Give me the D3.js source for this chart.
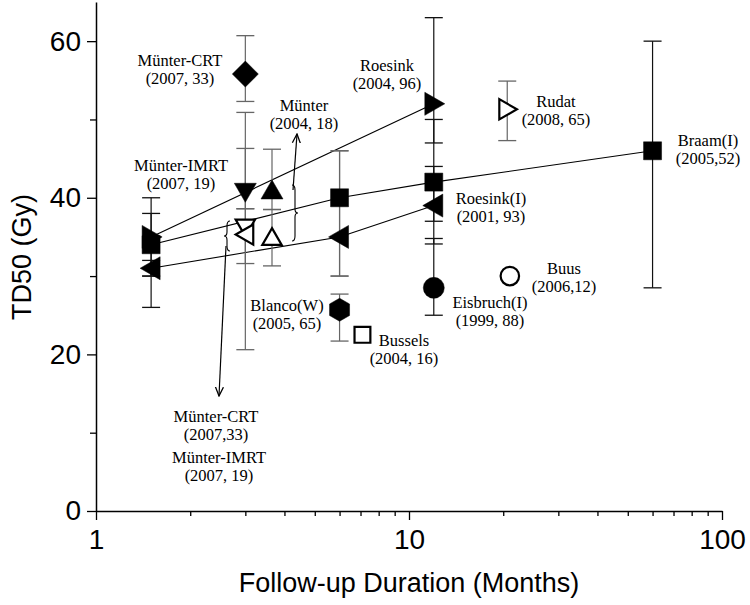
<!DOCTYPE html>
<html><head><meta charset="utf-8">
<script src="https://cdn.jsdelivr.net/npm/d3@7/dist/d3.min.js"></script>
<style>
body{margin:0;background:#fff;}
svg{display:block;}
</style></head>
<body>
<svg id="chart" width="750" height="605"></svg>
<script>
// ---------- data ----------
const months   = [1.5, 1.5, 1.5, 3, 3, 3, 3, 3.65, 3.65, 6, 6, 6, 7.1, 12, 12, 12, 12, 20.6, 21, 60];
const td50     = [35, 34, 31, 55.8, 40.7, 36.2, 35.3, 41, 35, 40, 35, 25.7, 22.5, 52, 42, 39, 28.5, 51.3, 30, 46];
const errLow   = [30, 26, 30, 52.3, 38.6, 31.6, 20.6, 38.5, 31.3, 30, 30, 21.7, null, 47, 37, 34.1, 25, 47.3, null, 28.5];
const errHigh  = [40, 38, 32, 60.7, 46.3, 50.9, 38.6, 46.2, 38.5, 46, 46, 27.7, null, 63, 50, 44, 34.8, 54.9, null, 60];
const shapes   = ["triR","square","triL","diamond","triD","triD","triL","triU","triU","square","triL","hexagon","square","triR","square","triL","circle","triR","circle","square"];
const filled   = [true,true,true,true,true,false,false,true,false,true,true,true,false,true,true,true,true,false,false,true];
const barTone  = ["k","k","k","g","g","g","g","g","g","g","g","g","k","k","k","k","k","g","k","k"];

// connecting trend lines (indices into the arrays above)
const trendLines = [[0, 13], [1, 9, 14, 19], [2, 10, 15]];

const yTicks = [0, 20, 40, 60];
const yMinor = [10, 30, 50];
const xTicks = [1, 10, 100];
const xMinor = [2,3,4,5,6,7,8,9,20,30,40,50,60,70,80,90];

const labels = [
  {lines:["Münter-CRT","(2007, 33)"], x:180, y:66},
  {lines:["Münter-IMRT","(2007, 19)"], x:181, y:171},
  {lines:["Münter","(2004, 18)"], x:304, y:111},
  {lines:["Roesink","(2004, 96)"], x:387, y:71},
  {lines:["Rudat","(2008, 65)"], x:556, y:107},
  {lines:["Braam(I)","(2005,52)"], x:708, y:146},
  {lines:["Roesink(I)","(2001, 93)"], x:491, y:204},
  {lines:["Eisbruch(I)","(1999, 88)"], x:490, y:308},
  {lines:["Buus","(2006,12)"], x:564, y:274},
  {lines:["Blanco(W)","(2005, 65)"], x:287, y:311},
  {lines:["Bussels","(2004, 16)"], x:404, y:346},
  {lines:["Münter-CRT","(2007,33)"], x:216, y:422},
  {lines:["Münter-IMRT","(2007, 19)"], x:219, y:463}
];

// ---------- scales ----------
const svg = d3.select("#chart");
const x = d3.scaleLog().domain([1, 100]).range([96, 722]);
const y = d3.scaleLinear().domain([0, 65]).range([511, 2]);

const sans = "'Liberation Sans', Arial, sans-serif";
const serif = "'Liberation Serif', 'Times New Roman', serif";

// ---------- axes ----------
const gy = svg.append("g").attr("transform", `translate(${x.range()[0]},0)`)
  .call(d3.axisLeft(y).tickValues(yTicks).tickSize(9).tickPadding(6).tickSizeOuter(0));
svg.append("g").attr("transform", `translate(${x.range()[0]},0)`)
  .call(d3.axisLeft(y).tickValues(yMinor).tickSize(6).tickFormat("").tickSizeOuter(0))
  .select(".domain").remove();
const gx = svg.append("g").attr("transform", `translate(0,${y(0)})`)
  .call(d3.axisBottom(x).tickValues(xTicks).tickFormat(d3.format("d")).tickSize(9).tickPadding(5).tickSizeOuter(0));
svg.append("g").attr("transform", `translate(0,${y(0)})`)
  .call(d3.axisBottom(x).tickValues(xMinor).tickSize(5).tickFormat("").tickSizeOuter(0))
  .select(".domain").remove();
svg.selectAll(".domain").attr("stroke", "#000").attr("stroke-width", 1.5);
svg.selectAll(".tick line").attr("stroke", "#000").attr("stroke-width", 1.3);
[gy, gx].forEach(g => g.selectAll("text").attr("font-family", sans).attr("font-size", 28).attr("fill", "#000"));
gx.selectAll("text").attr("dy", "0.85em");

svg.append("text").attr("x", 409).attr("y", 592).attr("text-anchor", "middle")
  .attr("font-family", sans).attr("font-size", 27).text("Follow-up Duration (Months)");
svg.append("text").attr("transform", "translate(31,257) rotate(-90)").attr("text-anchor", "middle")
  .attr("font-family", sans).attr("font-size", 27).text("TD50 (Gy)");

// ---------- trend lines ----------
const line = d3.line().x(i => x(months[i])).y(i => y(td50[i]));
svg.append("g").selectAll("path").data(trendLines).join("path")
  .attr("d", line).attr("fill", "none").attr("stroke", "#000").attr("stroke-width", 1.1);

// ---------- error bars ----------
const idx = d3.range(months.length);
const eb = svg.append("g");
idx.filter(i => errLow[i] != null).forEach(i => {
  const c = barTone[i] === "k" ? "#111" : "#666";
  const cx = x(months[i]);
  eb.append("line").attr("x1", cx).attr("x2", cx).attr("y1", y(errLow[i])).attr("y2", y(errHigh[i]))
    .attr("stroke", c).attr("stroke-width", 1.2);
  [errLow[i], errHigh[i]].forEach(v => eb.append("line")
    .attr("x1", cx - 9).attr("x2", cx + 9).attr("y1", y(v)).attr("y2", y(v))
    .attr("stroke", c).attr("stroke-width", 1.3));
});

// ---------- markers ----------
function shapePath(s) {
  switch (s) {
    case "triR": return "M-9,-11.5L11,0L-9,11.5Z";
    case "triL": return "M9,-11.5L-11,0L9,11.5Z";
    case "triU": return "M0,-10L11,9L-11,9Z";
    case "triD": return "M0,10L11,-9L-11,-9Z";
    case "square": return "M-9,-9H9V9H-9Z";
    case "diamond": return "M0,-13L13,0L0,13L-13,0Z";
    case "hexagon": return "M0,-11.5L10,-5.75L10,5.75L0,11.5L-10,5.75L-10,-5.75Z";
    case "circle": return d3.arc()({innerRadius:0, outerRadius:10.5, startAngle:0, endAngle:2*Math.PI});
  }
}
svg.append("g").selectAll("path").data(idx).join("path")
  .attr("transform", i => `translate(${x(months[i])},${y(td50[i])}) scale(${filled[i] ? 1 : 0.88})`)
  .attr("d", i => shapePath(shapes[i]))
  .attr("fill", i => filled[i] ? "#000" : "#fff")
  .attr("stroke", "#000")
  .attr("stroke-width", i => filled[i] ? 0.5 : 2.5);

// ---------- braces & arrows ----------
const defs = svg.append("defs");
defs.append("marker").attr("id", "arr").attr("viewBox", "0 0 10 10").attr("refX", 9).attr("refY", 5)
  .attr("markerWidth", 10).attr("markerHeight", 10).attr("orient", "auto").attr("markerUnits", "userSpaceOnUse")
  .append("path").attr("d", "M0,1L9,5L0,9").attr("fill", "none").attr("stroke", "#000").attr("stroke-width", 1.3);

function brace(bx, y1, y2, dir) {
  const w = 3 * dir, ym = (y1 + y2) / 2;
  return `M${bx},${y1}Q${bx + w},${y1} ${bx + w},${y1 + 5}L${bx + w},${ym - 4}Q${bx + w},${ym} ${bx + 2 * w},${ym}` +
         `Q${bx + w},${ym} ${bx + w},${ym + 4}L${bx + w},${y2 - 5}Q${bx + w},${y2} ${bx},${y2}`;
}
svg.append("path").attr("d", brace(292, 185, 241, 1)).attr("fill", "none").attr("stroke", "#000").attr("stroke-width", 1.1);
svg.append("path").attr("d", brace(230, 221, 251, -1)).attr("fill", "none").attr("stroke", "#000").attr("stroke-width", 1.1);
svg.append("line").attr("x1", 293).attr("y1", 190).attr("x2", 297).attr("y2", 134)
  .attr("stroke", "#000").attr("stroke-width", 1.2).attr("marker-end", "url(#arr)");
svg.append("line").attr("x1", 226).attr("y1", 246).attr("x2", 219).attr("y2", 396)
  .attr("stroke", "#000").attr("stroke-width", 1.2).attr("marker-end", "url(#arr)");

// ---------- labels ----------
const lg = svg.append("g").attr("font-family", serif).attr("font-size", 16.5).attr("fill", "#000").attr("text-anchor", "middle");
labels.forEach(l => {
  l.lines.forEach((s, k) => lg.append("text").attr("x", l.x).attr("y", l.y + k * 18).text(s));
});
</script>
</body></html>
